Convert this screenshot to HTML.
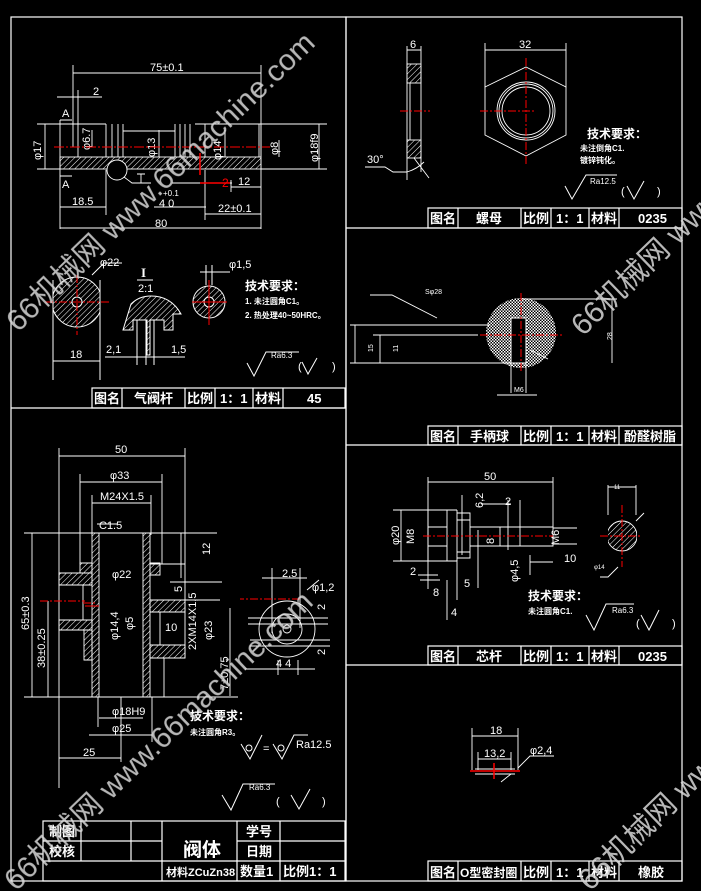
<!DOCTYPE html>
<html><head><meta charset="utf-8"><style>
html,body{margin:0;padding:0;background:#000;}
svg{display:block}
text{font-family:"Liberation Sans","Noto Sans CJK SC",sans-serif;fill:#fff}
.t{font-size:13px;font-weight:bold}
.d{font-size:11px}
</style></head><body>
<svg width="701" height="891" viewBox="0 0 701 891" xmlns="http://www.w3.org/2000/svg">
<defs>
<pattern id="h" width="4" height="4" patternUnits="userSpaceOnUse" patternTransform="rotate(45)">
<line x1="0" y1="0" x2="0" y2="4" stroke="#fff" stroke-width="1"/></pattern>
<pattern id="x" width="3" height="3" patternUnits="userSpaceOnUse">
<rect width="3" height="3" fill="#000"/><rect width="1.5" height="1.5" fill="#fff"/><rect x="1.5" y="1.5" width="1.5" height="1.5" fill="#fff"/></pattern>
</defs>
<rect width="701" height="891" fill="#000"/>
<g stroke="#fff" fill="none" stroke-width="1.2">
<rect x="11" y="17" width="335" height="864"/>
<rect x="346" y="17" width="336" height="864"/>
<line x1="11" y1="408" x2="346" y2="408"/>
<line x1="346" y1="228" x2="682" y2="228"/>
<line x1="346" y1="445" x2="682" y2="445"/>
<line x1="346" y1="665" x2="682" y2="665"/>
<rect x="92" y="388" width="253" height="20"/>
<path d="M122 388v20M185 388v20M215 388v20M253 388v20M283 388v20"/>
<rect x="428" y="208" width="254" height="20"/>
<path d="M458 208v20M521 208v20M551 208v20M589 208v20M619 208v20"/>
<rect x="428" y="426" width="254" height="19"/>
<path d="M458 426v19M521 426v19M551 426v19M589 426v19M619 426v19"/>
<rect x="428" y="646" width="254" height="19"/>
<path d="M458 646v19M521 646v19M551 646v19M589 646v19M619 646v19"/>
<rect x="428" y="861" width="254" height="20"/>
<path d="M458 861v20M521 861v20M551 861v20M589 861v20M619 861v20"/>
<rect x="43" y="821" width="302" height="60"/>
<path d="M43 841h119M43 861h119M237 841h108M162 861h183M81 821v40M131 821v40M162 821v60M237 821v60M280 821v60"/>
</g>
<g class="t">
<text x="94" y="403">图名</text><text x="134" y="403">气阀杆</text><text x="187" y="403">比例</text><text x="220" y="403">1：1</text><text x="255" y="403">材料</text><text x="307" y="403">45</text>
<text x="430" y="223">图名</text><text x="476" y="223">螺母</text><text x="523" y="223">比例</text><text x="556" y="223">1：1</text><text x="591" y="223">材料</text><text x="638" y="223">0235</text>
<text x="430" y="441">图名</text><text x="470" y="441">手柄球</text><text x="523" y="441">比例</text><text x="556" y="441">1：1</text><text x="591" y="441">材料</text><text x="624" y="441">酚醛树脂</text>
<text x="430" y="661">图名</text><text x="476" y="661">芯杆</text><text x="523" y="661">比例</text><text x="556" y="661">1：1</text><text x="591" y="661">材料</text><text x="638" y="661">0235</text>
<text x="430" y="877">图名</text><text x="460" y="877" style="font-size:12px">O型密封圈</text><text x="523" y="877">比例</text><text x="556" y="877">1：1</text><text x="591" y="877">材料</text><text x="638" y="877">橡胶</text>
<text x="49" y="836">制图</text><text x="49" y="856">校核</text>
<text x="183" y="856" style="font-size:19px">阀体</text>
<text x="246" y="836">学号</text><text x="246" y="856">日期</text>
<text x="166" y="876" style="font-size:11px">材料ZCuZn38</text><text x="240" y="876">数量1</text><text x="283" y="876">比例1：1</text>
</g>

<g stroke="#fff" fill="none" stroke-width="0.9">
<rect x="60" y="157" width="201" height="12" fill="url(#h)"/>
<path d="M60 124h18M78 124h28M78 124v33M106 124v33M112 124v33M118 124v33M123 124v33M123 131h52M175 124v33M180 124v33M185 124v33M190 124v33M195 124h32M205 124v33M227 124h100M261 124v45M259 124v33M261 169h66M60 120v56M60 176h12M60 120h12"/>
<circle cx="117" cy="170" r="10" fill="#000"/>
<path d="M124 177l8 6h19M141 183v-9M137 174h8"/>
<path d="M73 65v82M261 65v164M73 73h188M57 97h45M78 90v34M45 124v45M37 124h23M37 169h23M319 124v45M92 130v17M159 130v27M225 130v27M279 140v17M60 176v53M60 228h201M60 207h46M106 170v45M154 207h52M205 170v50M205 214h56M231 180v12M231 187h30M172 183h60"/>
</g>
<g class="d">
<text x="150" y="71">75±0.1</text><text x="93" y="95">2</text>
<text x="155" y="227">80</text><text x="72" y="205">18.5</text><text x="218" y="212">22±0.1</text><text x="238" y="185">12</text>
<text x="62" y="117">A</text><text x="62" y="188">A</text><text x="159" y="207">4 0</text><text x="163" y="196" style="font-size:8px">+0.1</text>
<text transform="translate(41,160) rotate(-90)">φ17</text><text transform="translate(90,150) rotate(-90)">φ6.7</text>
<text transform="translate(155,157) rotate(-90)">φ13</text><text transform="translate(221,160) rotate(-90)">φ14</text>
<text transform="translate(278,155) rotate(-90)">φ8</text><text transform="translate(318,162) rotate(-90)">φ18f9</text>
</g>
<text x="222" y="187" style="font-size:12px;fill:#f00">2</text>
<g stroke="#f00" stroke-width="1" stroke-dasharray="10 2 2 2">
<line x1="54" y1="147" x2="270" y2="147"/>
</g>
<path d="M200 153v22M200 183h30" stroke="#f00" stroke-width="1.5"/>

<clipPath id="c1"><rect x="53" y="270" width="47" height="70"/></clipPath>
<g clip-path="url(#c1)"><circle cx="77" cy="302" r="25" fill="url(#h)" stroke="#fff"/></g>
<circle cx="77" cy="302" r="5" fill="#000" stroke="#fff"/>
<path d="M53 280v100M100 280v100M53 361h47M92 275l12-12h18" stroke="#fff" fill="none"/>
<path d="M77 275v60M45 302h65" stroke="#f00" stroke-dasharray="8 2 2 2"/>
<text class="d" x="100" y="266">φ22</text><text class="d" x="70" y="358">18</text>
<text x="141" y="277" style="font-size:13px;font-weight:bold;font-family:'Liberation Serif',serif">I</text>
<line x1="137" y1="280" x2="153" y2="280" stroke="#fff"/>
<text class="d" x="138" y="292">2:1</text>
<path d="M123 330l8-26q8-8 20-8q20 0 30 18h-8v16h-9v-10h-14v35h-3v-35h-14v10z" fill="url(#h)" stroke="#fff"/>
<path d="M137 320v45M146 320v45M154 320v45M105 357h80" stroke="#fff" fill="none"/>
<text class="d" x="106" y="353">2,1</text><text class="d" x="171" y="353">1,5</text>
<circle cx="209" cy="302" r="16" fill="url(#h)" stroke="#fff"/>
<circle cx="209" cy="302" r="5" fill="#000" stroke="#fff"/>
<path d="M206 265v20M212 265v20M200 272h30" stroke="#fff"/>
<path d="M209 280v45M192 302h35" stroke="#f00"/>
<text class="d" x="229" y="268">φ1,5</text>
<text x="245" y="290" style="font-size:12px;font-weight:bold">技术要求：</text>
<text x="245" y="304" style="font-size:8px;font-weight:bold">1. 未注圆角C1。</text>
<text x="245" y="318" style="font-size:8px;font-weight:bold">2. 热处理40~50HRC。</text>
<path d="M247 363l7 13l12-24h33M302 362l6 12l9-16" stroke="#fff" fill="none"/>
<text x="271" y="358" style="font-size:8px">Ra6.3</text>
<text x="298" y="370" class="d">(</text><text x="332" y="370" class="d">)</text>

<g stroke="#fff" fill="none" stroke-width="0.9">
<rect x="407" y="64" width="14" height="19" fill="url(#h)"/>
<rect x="407" y="140" width="14" height="18" fill="url(#h)"/>
<path d="M407 83v57M410 83v57M407 46v134M421 46v126M407 50h14M365 167h20l8 5h14q10-3 17-10M414 158l15 20"/>
<polygon points="485,87 526,67 566,87 566,135 526,156 485,135"/>
<circle cx="526" cy="111" r="29"/><circle cx="526" cy="111" r="27"/><circle cx="526" cy="111" r="24"/>
<path d="M485 43v45M566 43v45M485 50h81"/>
</g>
<path d="M526 58v108M480 111h56M400 111h30" stroke="#f00" stroke-dasharray="8 2 2 2"/>
<text class="d" x="410" y="48">6</text><text class="d" x="519" y="48">32</text><text class="d" x="367" y="163">30°</text>
<text x="587" y="138" style="font-size:12px;font-weight:bold">技术要求：</text>
<text x="580" y="151" style="font-size:8px;font-weight:bold">未注倒角C1.</text>
<text x="580" y="163" style="font-size:8px;font-weight:bold">镀锌钝化。</text>
<path d="M565 186l7 13l14-24h31M627 186l7 13l10-18" stroke="#fff" fill="none"/>
<text x="590" y="184" style="font-size:8px">Ra12.5</text><text class="d" x="621" y="195">(</text><text class="d" x="657" y="195">)</text>

<circle cx="521" cy="333" r="35" fill="url(#x)"/>
<rect x="511" y="318" width="15" height="45" fill="#000" stroke="#fff"/>
<g stroke="#fff" fill="none" stroke-width="0.9">
<path d="M350 363h175M350 325h140M373 335h105M355 325v38M380 335v28M521 299h96M612 299v64M511 363v30M526 363v30M497 395h40M370 295h22l45 23M530 350l18 9"/>
</g>
<path d="M521 293v80M480 335h84" stroke="#f00" stroke-dasharray="8 2 2 2"/>
<text x="425" y="294" style="font-size:7px">Sφ28</text>
<text transform="translate(373,352) rotate(-90)" style="font-size:7px">15</text>
<text transform="translate(398,352) rotate(-90)" style="font-size:7px">11</text>
<text x="514" y="392" style="font-size:7px">M6</text>
<text transform="translate(612,340) rotate(-90)" style="font-size:7px">28</text>

<g stroke="#fff" fill="none" stroke-width="0.9">
<path d="M393 510h64M393 561h64M428 510v51M447 510v51M457 510v51M428 527h19M428 546h19M457 513h13v45h-13M457 520h13M457 552h13M470 527h83v19h-83M553 528h24M553 544h24M553 528v16M500 527v19"/>
<path d="M428 477v100M553 477v50M428 482h125M401 510v51M462 495v60M478 530v58M481 504h30M508 500v50M520 500v46M530 562h23M530 555v20M418 575h20M420 580h20M447 580v40M457 560v40M428 575v14"/>
<clipPath id="c2"><rect x="608" y="500" width="29" height="70"/></clipPath>
<g clip-path="url(#c2)"><circle cx="622" cy="536" r="15" fill="url(#h)"/></g>
<path d="M608 485v30M636 485v30M608 487h28M618 567l-10 10h-8M636 521l8-8"/>
</g>
<path d="M423 536h130M600 536h40M622 505v62" stroke="#f00" stroke-dasharray="8 2 2 2"/>
<g class="d"><text x="484" y="480">50</text><text x="505" y="505">2</text><text x="564" y="562">10</text>
<text x="410" y="575">2</text><text x="433" y="596">8</text><text x="451" y="616">4</text><text x="464" y="587">5</text>
<text transform="translate(399,545) rotate(-90)">φ20</text><text transform="translate(414,544) rotate(-90)">M8</text>
<text transform="translate(483,508) rotate(-90)">6,2</text><text transform="translate(494,544) rotate(-90)">8</text>
<text transform="translate(559,545) rotate(-90)">M6</text><text transform="translate(518,582) rotate(-90)">φ4,5</text></g>
<text x="614" y="489" style="font-size:6px">11</text><text x="594" y="569" style="font-size:6px">φ14</text>
<text x="528" y="600" style="font-size:12px;font-weight:bold">技术要求：</text>
<text x="528" y="614" style="font-size:8px;font-weight:bold">未注圆角C1.</text>
<path d="M586 615l8 15l12-26h28M641 615l8 15l10-20" stroke="#fff" fill="none"/>
<text x="612" y="613" style="font-size:8px">Ra6.3</text><text class="d" x="636" y="627">(</text><text class="d" x="672" y="627">)</text>

<g stroke="#fff" fill="none" stroke-width="0.9">
<path d="M472 728v42M518 728v42M472 736h46M478 752v18M511 752v18M478 759h33M475 769h40M475 774h40M511 774l-10 8M518 768l12-12h24"/>
</g>
<path d="M470 771h50M494 763v16" stroke="#f00" stroke-width="1.5"/>
<text class="d" x="490" y="734">18</text><text class="d" x="484" y="757">13,2</text><text class="d" x="530" y="754">φ2,4</text>

<g stroke="#fff" fill="none" stroke-width="0.9">
<path d="M92 533h7v164h-7z" fill="url(#h)"/>
<path d="M143 533h7v164h-7z" fill="url(#h)"/>
<path d="M59 573h33v12h-33zM80 563h12v10h-12zM59 620h33v10h-33zM84 630h8v30h-8zM150 563h10v12h-10zM150 600h35v12h-35zM150 645h35v13h-35z" fill="url(#h)"/>
<path d="M59 448v340M185 448v210M80 474v90M162 474v90M92 495v40M151 495v40M24 533h193M150 564h35M59 585h24v35M150 612h10v33M150 658h14v39M24 697h214M32 533v164M48 601v96M220 600h-35M170 582h52M230 608v88"/>
<path d="M59 456h126M80 482h82M92 503h59M181 533v45M99 718h44M89 735h63M98 697v30M152 697v45M59 758h62M121 697v65M97 524h20"/>
<circle cx="287" cy="629" r="28"/><circle cx="287" cy="629" r="15"/><circle cx="287" cy="629" r="4"/>
<path d="M272 568v65M300 568v60M262 578h45M248 618h80M248 624h80M250 640h80M250 646h80M278 660v15M298 660v15M245 669h70M307 590l12-10"/>
</g>
<path d="M40 601h45M83 603h14M300 599h-60" stroke="#f00" stroke-dasharray="8 2 2 2"/>
<path d="M85 606h14" stroke="#f00"/>
<g class="d"><text x="115" y="453">50</text><text x="110" y="479">φ33</text><text x="100" y="500">M24X1.5</text><text x="99" y="529">C1.5</text>
<text x="112" y="578">φ22</text><text x="165" y="631">10</text><text x="112" y="715">φ18H9</text><text x="112" y="732">φ25</text><text x="83" y="756">25</text>
<text x="282" y="577">2,5</text><text x="312" y="591">φ1,2</text><text x="276" y="667">4 4</text>
<text transform="translate(29,630) rotate(-90)">65±0.3</text><text transform="translate(45,668) rotate(-90)">38±0.25</text>
<text transform="translate(210,555) rotate(-90)">12</text><text transform="translate(182,592) rotate(-90)">5</text>
<text transform="translate(118,640) rotate(-90)">φ14,4</text><text transform="translate(133,630) rotate(-90)">φ5</text>
<text transform="translate(196,650) rotate(-90)">2XM14X1,5</text><text transform="translate(212,640) rotate(-90)">φ23</text>
<text transform="translate(325,610) rotate(-90)">2</text><text transform="translate(325,655) rotate(-90)">2</text>
<text transform="translate(228,690) rotate(-90)">7±0,75</text></g>
<text x="190" y="720" style="font-size:12px;font-weight:bold">技术要求：</text>
<text x="190" y="735" style="font-size:8px;font-weight:bold">未注圆角R3。</text>
<path d="M241 744l9 15l12-24M273 744l9 15l12-24h14" stroke="#fff" fill="none"/>
<circle cx="249" cy="748" r="3" stroke="#fff" fill="none"/><circle cx="281" cy="748" r="3" stroke="#fff" fill="none"/>
<text class="d" x="263" y="752">=</text><text class="d" x="296" y="748">Ra12.5</text>
<path d="M222 795l9 15l12-26h32M291 795l8 14l11-20" stroke="#fff" fill="none"/>
<text x="249" y="790" style="font-size:8px">Ra6.3</text><text class="d" x="276" y="805">(</text><text class="d" x="322" y="805">)</text>

<g style="font-size:30px;opacity:0.85">
<text transform="translate(18,333) rotate(-44)" style="fill:#d8d8d8">66机械网 www.66machine.com</text>
<text transform="translate(16,892) rotate(-44)" style="fill:#d8d8d8">66机械网 www.66machine.com</text>
<text transform="translate(583,337) rotate(-44)" style="fill:#d8d8d8">66机械网 www.66machine.com</text>
<text transform="translate(590,892) rotate(-44)" style="fill:#d8d8d8">66机械网 www.66machine.com</text>
</g>
</svg>
</body></html>
